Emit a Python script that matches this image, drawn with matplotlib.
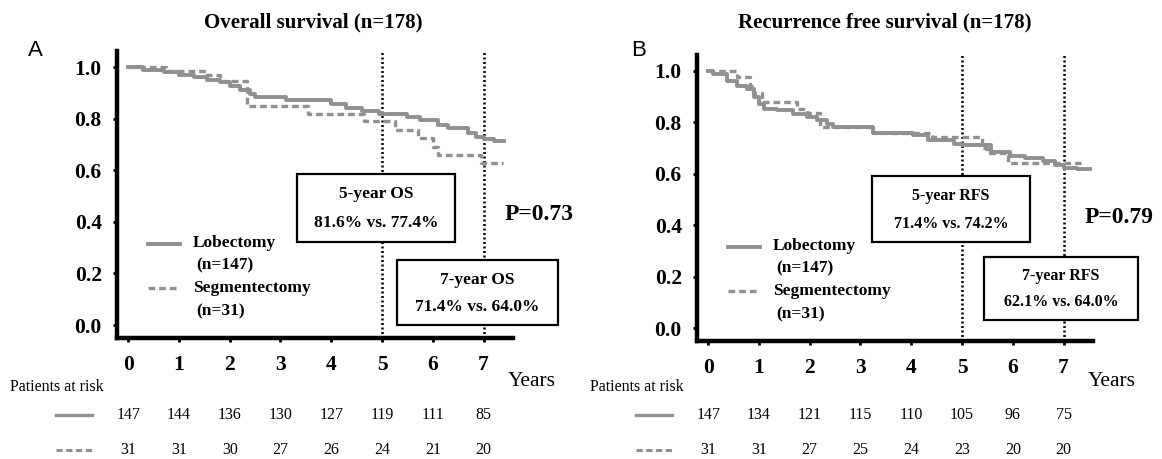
import numpy as np
import matplotlib
matplotlib.use("Agg")
import matplotlib.pyplot as plt
from matplotlib.lines import Line2D
from matplotlib.patches import Rectangle
from matplotlib import transforms

plt.rcParams['font.family'] = ['Liberation Serif', 'DejaVu Serif']

# ---- data ----
years = [0, 1, 2, 3, 4, 5, 6, 7]
milestones = [5, 7]

# Overall survival (A)
os_lob_t = [0, 0.3, 0.7, 1.0, 1.3, 1.55, 1.8, 2.0, 2.2, 2.4, 2.5, 3.1, 4.0, 4.3, 4.6, 4.95,
            5.5, 5.75, 6.1, 6.3, 6.7, 6.85, 7.0, 7.2, 7.4]
os_lob_s = [1.0, 0.99, 0.98, 0.97, 0.96, 0.95, 0.94, 0.925, 0.91, 0.895, 0.885, 0.872, 0.855,
            0.842, 0.83, 0.816, 0.806, 0.795, 0.775, 0.762, 0.745, 0.73, 0.72, 0.712, 0.712]
os_seg_t = [0, 0.75, 1.55, 1.8, 2.35, 3.55, 4.65, 5.26, 5.7, 6.0, 6.1, 6.95, 7.38]
os_seg_s = [1.0, 0.985, 0.97, 0.945, 0.85, 0.817, 0.79, 0.756, 0.725, 0.69, 0.66, 0.628, 0.628]

# Recurrence free survival (B)
rfs_lob_t = [0, 0.1, 0.37, 0.57, 0.76, 0.9, 1.0, 1.1, 1.35, 1.68, 1.95, 2.15, 2.35, 2.46, 3.25,
             4.03, 4.33, 4.84, 5.0, 5.58, 5.95, 6.24, 6.6, 6.83, 7.0, 7.27, 7.53]
rfs_lob_s = [1.0, 0.988, 0.96, 0.94, 0.93, 0.90, 0.87, 0.853, 0.848, 0.833, 0.82, 0.81, 0.792,
             0.782, 0.758, 0.75, 0.733, 0.716, 0.711, 0.684, 0.67, 0.66, 0.649, 0.633, 0.624,
             0.617, 0.617]
rfs_seg_t = [0, 0.57, 0.83, 0.89, 1.06, 1.75, 1.95, 2.2, 3.25, 4.4, 5.4, 5.5, 5.9, 7.35]
rfs_seg_s = [1.0, 0.975, 0.94, 0.915, 0.88, 0.85, 0.838, 0.78, 0.758, 0.742, 0.70, 0.68, 0.64, 0.64]

os_risk_lob = [147, 144, 136, 130, 127, 119, 111, 85]
os_risk_seg = [31, 31, 30, 27, 26, 24, 21, 20]
rfs_risk_lob = [147, 134, 121, 115, 110, 105, 96, 75]
rfs_risk_seg = [31, 31, 27, 25, 24, 23, 20, 20]

W, H = 1162, 459
GREY = '#909090'
SEG_DASH = (0, (2.0, 1.2))

fig = plt.figure(figsize=(W / 100, H / 100), dpi=100)


def fx(px):
    return px / W


def fy(py):
    return 1 - py / H


def panel(ox, oy, letter, title, title_cx, lob_t, lob_s, seg_t, seg_s,
          box5, box7, box_fs, pval, risk_lob, risk_seg):
    # axes: left 117, right 513, top 51, bottom 338 (pixels) for panel A
    ax = fig.add_axes([fx(117 + ox), fy(338 + oy), (513 - 117) / W, (338 - 51 - oy * 0.3) / H])
    ax.set_xlim(-0.22, 7.58)
    ax.set_ylim(-0.05, 1.062)
    for sp in ['top', 'right']:
        ax.spines[sp].set_visible(False)
    for sp in ['left', 'bottom']:
        ax.spines[sp].set_linewidth(3.2)
    ax.set_xticks(years)
    ax.set_yticks([0, 0.2, 0.4, 0.6, 0.8, 1.0])
    ax.set_yticklabels(['%.1f' % v for v in [0, 0.2, 0.4, 0.6, 0.8, 1.0]])
    ax.tick_params(axis='both', direction='out', length=3, width=2, labelsize=15.5)
    ax.tick_params(axis='x', pad=9)
    ax.tick_params(axis='y', pad=8)
    for lab in ax.get_xticklabels() + ax.get_yticklabels():
        lab.set_fontweight('bold')

    for m in milestones:
        ax.axvline(m, color='black', lw=1.8, linestyle=(0, (0.8, 1.0)), zorder=1)

    ax.step(lob_t, lob_s, where='post', color=GREY, lw=2.8, zorder=3)
    ax.step(seg_t, seg_s, where='post', color=GREY, lw=2.4, linestyle=SEG_DASH, zorder=3)

    fig.text(fx(title_cx), fy(22), title, ha='center', va='center',
             fontsize=15, fontweight='bold')
    fig.text(fx(35 + ox * 1.04), fy(50), letter, ha='center', va='center',
             fontsize=16, family=['Liberation Sans', 'DejaVu Sans'])

    # legend
    fig.add_artist(Line2D([fx(148 + ox), fx(180 + ox)], [fy(244 + oy)] * 2, color=GREY, lw=2.8))
    fig.add_artist(Line2D([fx(148 + ox), fx(180 + ox)], [fy(288 + oy)] * 2, color=GREY, lw=2.4,
                          linestyle=SEG_DASH))
    fig.text(fx(193 + ox), fy(243 + oy), 'Lobectomy', va='center', fontsize=12.5, fontweight='bold')
    fig.text(fx(196 + ox), fy(265 + oy), '(n=147)', va='center', fontsize=12.5, fontweight='bold')
    fig.text(fx(193 + ox), fy(288 + oy), 'Segmentectomy', va='center', fontsize=12.5, fontweight='bold')
    fig.text(fx(196 + ox), fy(311 + oy), '(n=31)', va='center', fontsize=12.5, fontweight='bold')

    # milestone boxes
    for (x0, y0, x1, y1, l1, l2) in [box5, box7]:
        fig.add_artist(Rectangle((fx(x0), fy(y1)), (x1 - x0) / W, (y1 - y0) / H,
                                 transform=fig.transFigure, facecolor='white',
                                 edgecolor='black', lw=1.6))
        cx = (x0 + x1) / 2
        fig.text(fx(cx), fy(y0 + (y1 - y0) * 0.30), l1, ha='center', va='center',
                 fontsize=box_fs, fontweight='bold')
        fig.text(fx(cx), fy(y0 + (y1 - y0) * 0.72), l2, ha='center', va='center',
                 fontsize=box_fs, fontweight='bold')

    fig.text(fx(505 + ox), fy(215 + oy), pval, ha='left', va='center', fontsize=17, fontweight='bold')
    fig.text(fx(508 + ox), fy(381), 'Years', ha='left', va='center', fontsize=15.5)

    # risk table
    fig.text(fx(10 + ox), fy(387), 'Patients at risk', ha='left', va='center', fontsize=11.5)
    fig.add_artist(Line2D([fx(56 + ox), fx(92 + ox)], [fy(415)] * 2, color=GREY, lw=2.4))
    fig.add_artist(Line2D([fx(56 + ox), fx(92 + ox)], [fy(450)] * 2, color=GREY, lw=2.2,
                          linestyle=SEG_DASH))
    tr = transforms.blended_transform_factory(ax.transData, fig.transFigure)
    for yr, a, b in zip(years, risk_lob, risk_seg):
        fig.text(yr, fy(415), str(a), transform=tr, ha='center', va='center', fontsize=11.5)
        fig.text(yr, fy(450), str(b), transform=tr, ha='center', va='center', fontsize=11.5)
    return ax


panel(0, 0, 'A', 'Overall survival (n=178)', 313,
      os_lob_t, os_lob_s, os_seg_t, os_seg_s,
      (297, 174, 455, 242, '5-year OS', '81.6% vs. 77.4%'),
      (397, 260, 558, 325, '7-year OS', '71.4% vs. 64.0%'),
      12.5, 'P=0.73', os_risk_lob, os_risk_seg)

panel(580, 3, 'B', 'Recurrence free survival (n=178)', 885,
      rfs_lob_t, rfs_lob_s, rfs_seg_t, rfs_seg_s,
      (872, 176, 1030, 242, '5-year RFS', '71.4% vs. 74.2%'),
      (984, 257, 1138, 320, '7-year RFS', '62.1% vs. 64.0%'),
      11.5, 'P=0.79', rfs_risk_lob, rfs_risk_seg)

fig.savefig('out.png', dpi=100)
